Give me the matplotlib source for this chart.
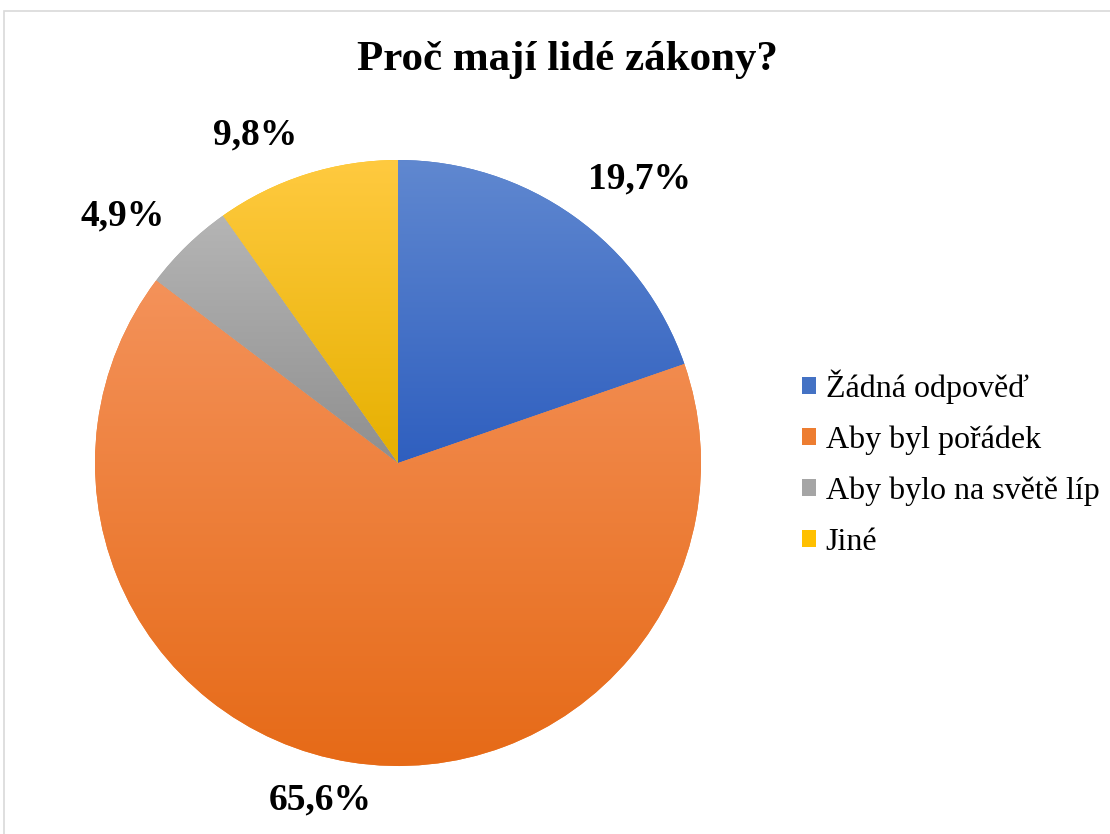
import numpy as np
import matplotlib
matplotlib.use('Agg')
import matplotlib.pyplot as plt
from matplotlib.colors import LinearSegmentedColormap
from matplotlib.patches import Rectangle

# data
categories = ['Žádná odpověď', 'Aby byl pořádek', 'Aby bylo na světě líp', 'Jiné']
shares = [19.7, 65.6, 4.9, 9.8]
# (light top, dark bottom) per slice
grad_colors = [('#6088d0', '#2f5fbf'),
               ('#f4925a', '#e66a17'),
               ('#b5b5b5', '#8f8f8f'),
               ('#ffca40', '#e6b000')]
mid_colors = ['#4472c4', '#ed7d31', '#a5a5a5', '#ffc000']
# label placement: distance from centre (radii), shift from slice middle (deg)
label_dist = [1.23, 1.14, 1.22, 1.18]
label_shift = [-5, -4, 4, 6]

plt.rcParams['font.family'] = ['Liberation Serif', 'DejaVu Serif']

fig = plt.figure(figsize=(11.1, 8.34), dpi=100)
W, H = 1110, 834
cx, cy, r = 398, 463, 303
ax = fig.add_axes([(cx - r) / W, (H - cy - r) / H, 2 * r / W, 2 * r / H])

wedges, texts, autotexts = ax.pie(
    shares, colors=mid_colors, startangle=90, counterclock=False,
    autopct=lambda p: f'{p:.1f}%'.replace('.', ','), pctdistance=1.2,
    wedgeprops=dict(linewidth=0), radius=1)
for w, t, d, s in zip(wedges, autotexts, label_dist, label_shift):
    ang = np.deg2rad((w.theta1 + w.theta2) / 2 + s)
    t.set_position((d * np.cos(ang), d * np.sin(ang)))
    t.set_fontsize(27)
    t.set_fontweight('bold')

# vertical gradient fill clipped to each wedge (over the wedge's own extent)
grad = np.linspace(0, 1, 256).reshape(-1, 1)
for w, (light, dark) in zip(wedges, grad_colors):
    cmap = LinearSegmentedColormap.from_list('g', [dark, light])
    bb = w.get_path().get_extents()
    im = ax.imshow(grad, extent=[bb.x0, bb.x1, bb.y0, bb.y1], origin='lower',
                   cmap=cmap, aspect='auto', zorder=2)
    im.set_clip_path(w)

ax.set_xlim(-1, 1)
ax.set_ylim(-1, 1)
ax.set_aspect('equal')
ax.axis('off')

fig.text(567 / W, 1 - 60 / H, 'Proč mají lidé zákony?', ha='center', va='center',
         fontsize=31, fontweight='bold')

leg = fig.legend(wedges, categories, loc='center left',
                 bbox_to_anchor=(773 / W, 1 - 463 / H), frameon=False,
                 fontsize=23, handlelength=0.45, handleheight=0.45,
                 handletextpad=0.3, labelspacing=0.68)

# chart border
fig.patches.append(Rectangle((4 / W, -0.1), 1.2, 1 - 11 / H + 0.1,
                             transform=fig.transFigure, fill=False,
                             edgecolor='#d9d9d9', linewidth=1.2))

fig.savefig('out.png', dpi=100)
